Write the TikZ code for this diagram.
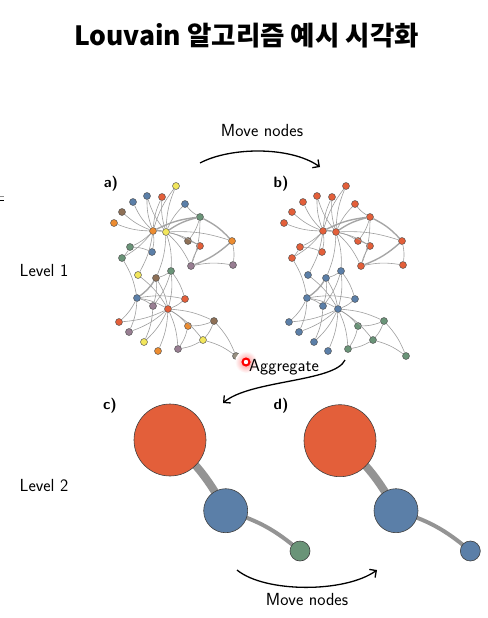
\documentclass[tikz,border=0pt]{standalone}
\usepackage{fontspec}
\newfontfamily\krfont{Noto Sans CJK KR}
\usetikzlibrary{arrows.meta,positioning,backgrounds}
\definecolor{cred}{RGB}{227,95,58}
\definecolor{cblue}{RGB}{91,127,168}
\definecolor{cgreen}{RGB}{106,148,120}
\definecolor{cyellow}{RGB}{242,230,92}
\definecolor{corange}{RGB}{236,140,48}
\definecolor{cbrown}{RGB}{142,112,86}
\definecolor{cmauve}{RGB}{152,126,146}
\definecolor{cgraygreen}{RGB}{150,142,128}

\begin{document}
\begin{tikzpicture}[x=1pt,y=1pt]
\tikzset{
  smallnode/.style={circle,draw=black!70,line width=0.45pt,minimum size=7pt,inner sep=0pt},
  linkedge/.style={draw=black!38,line width=0.6pt,bend left=10},
  heavylink/.style={linkedge,line width=1.4pt,draw=black!35},
  commnode/.style={circle,draw=black!75,line width=0.6pt,inner sep=0pt},
  commedge/.style={draw=black!42},
  movearrow/.style={draw=black,line width=1.3pt,-{Straight Barb[length=5pt,width=10pt]}},
  panellabel/.style={font=\sffamily\bfseries\fontsize{15}{18}\selectfont},
  levellabel/.style={font=\sffamily\fontsize{17.5}{20}\selectfont}
}
\useasboundingbox (0,0) rectangle (487,-618);
\node[font=\krfont\bfseries\fontsize{26.5}{30}\selectfont,anchor=base] (title) at (246.5,-46) {Louvain 알고리즘 예시 시각화};
\draw[black!45,line width=0.6pt] (0,-196.5) -- (3.5,-196.5);
\draw[black,line width=1.3pt] (0,-200.5) -- (4,-200.5);

% labels
\node[levellabel] (lvl_1) at (44,-270) {Level 1};
\node[levellabel] (lvl_2) at (44,-485) {Level 2};
\node[panellabel] (lab_a) at (111,-184) {a)};
\node[panellabel] (lab_b) at (281,-184) {b)};
\node[panellabel] (lab_c) at (110,-406) {c)};
\node[panellabel] (lab_d) at (281,-406) {d)};

% a) original network
\node[smallnode,fill=cyellow] (a_1) at (176,-186) {};
\node[smallnode,fill=cblue] (a_2) at (147,-196) {};
\node[smallnode,fill=cred] (a_3) at (162,-197) {};
\node[smallnode,fill=cblue] (a_4) at (133,-202) {};
\node[smallnode,fill=cblue] (a_5) at (185,-204) {};
\node[smallnode,fill=cbrown] (a_6) at (122,-212) {};
\node[smallnode,fill=corange] (a_7) at (114,-223) {};
\node[smallnode,fill=cgreen] (a_8) at (200,-217) {};
\node[smallnode,fill=corange] (a_9) at (153,-231) {};
\node[smallnode,fill=cyellow] (a_10) at (166,-232) {};
\node[smallnode,fill=cbrown] (a_11) at (188,-241) {};
\node[smallnode,fill=corange] (a_12) at (232,-241) {};
\node[smallnode,fill=cgreen] (a_13) at (130,-247) {};
\node[smallnode,fill=cred] (a_14) at (200,-246) {};
\node[smallnode,fill=cblue] (a_15) at (152,-252) {};
\node[smallnode,fill=cgreen] (a_16) at (122,-258) {};
\node[smallnode,fill=cmauve] (a_17) at (191,-266) {};
\node[smallnode,fill=cmauve] (a_18) at (233,-265) {};
\node[smallnode,fill=cgreen] (a_19) at (171,-271) {};
\node[smallnode,fill=cyellow] (a_20) at (138,-275) {};
\node[smallnode,fill=cbrown] (a_21) at (156,-278) {};
\node[smallnode,fill=cblue] (a_22) at (137,-298) {};
\node[smallnode,fill=cred] (a_23) at (185,-299) {};
\node[smallnode,fill=cmauve] (a_24) at (153,-306) {};
\node[smallnode,fill=cred] (a_25) at (168,-309) {};
\node[smallnode,fill=cbrown] (a_26) at (214,-321) {};
\node[smallnode,fill=cred] (a_27) at (119,-322) {};
\node[smallnode,fill=corange] (a_28) at (188,-326) {};
\node[smallnode,fill=cmauve] (a_29) at (129,-332) {};
\node[smallnode,fill=cyellow] (a_30) at (203,-340) {};
\node[smallnode,fill=cyellow] (a_31) at (144,-342) {};
\node[smallnode,fill=corange] (a_32) at (158,-351) {};
\node[smallnode,fill=cmauve] (a_33) at (178,-349) {};
\node[smallnode,fill=cgraygreen] (a_34) at (236,-356) {};
\draw[linkedge] (a_9) edge (a_1) edge (a_2) edge (a_3) edge (a_4) edge (a_6) edge (a_7) edge (a_13) edge (a_15) edge (a_16) edge (a_20);
\draw[heavylink] (a_9) edge (a_10) edge (a_8);
\draw[linkedge] (a_10) edge (a_1) edge (a_2) edge (a_3) edge (a_5) edge (a_11) edge (a_12) edge (a_14) edge (a_17) edge (a_19) edge (a_21);
\draw[heavylink] (a_10) edge (a_8);
\draw[linkedge] (a_8) edge (a_5) edge (a_11) edge (a_17);
\draw[heavylink] (a_8) edge (a_12);
\draw[linkedge] (a_12) edge (a_18);
\draw[heavylink] (a_12) edge (a_17);
\draw[linkedge] (a_17) edge (a_18) edge (a_14);
\draw[linkedge] (a_11) edge (a_14);
\draw[linkedge] (a_13) edge (a_16) edge (a_15);
\draw[linkedge] (a_16) edge (a_22);
\draw[linkedge] (a_19) edge (a_21) edge (a_23) edge (a_25) edge (a_24);
\draw[linkedge] (a_21) edge (a_25) edge (a_24);
\draw[heavylink] (a_21) edge (a_22);
\draw[linkedge] (a_20) edge (a_25);
\draw[linkedge] (a_22) edge (a_23) edge (a_24) edge (a_25) edge (a_27) edge (a_29);
\draw[linkedge] (a_23) edge (a_25);
\draw[linkedge] (a_24) edge (a_31);
\draw[linkedge] (a_25) edge (a_26) edge (a_27) edge (a_28) edge (a_29) edge (a_31) edge (a_32) edge (a_33) edge (a_30);
\draw[linkedge] (a_26) edge (a_28) edge (a_30) edge (a_34);
\draw[linkedge] (a_28) edge (a_33);
\draw[linkedge] (a_30) edge (a_33) edge (a_34);

% b) after moving nodes
\node[smallnode,fill=cred] (b_1) at (346,-186) {};
\node[smallnode,fill=cred] (b_2) at (317,-196) {};
\node[smallnode,fill=cred] (b_3) at (332,-197) {};
\node[smallnode,fill=cred] (b_4) at (303,-202) {};
\node[smallnode,fill=cred] (b_5) at (355,-204) {};
\node[smallnode,fill=cred] (b_6) at (292,-212) {};
\node[smallnode,fill=cred] (b_7) at (284,-223) {};
\node[smallnode,fill=cred] (b_8) at (370,-217) {};
\node[smallnode,fill=cred] (b_9) at (323,-231) {};
\node[smallnode,fill=cred] (b_10) at (336,-232) {};
\node[smallnode,fill=cred] (b_11) at (358,-241) {};
\node[smallnode,fill=cred] (b_12) at (402,-241) {};
\node[smallnode,fill=cred] (b_13) at (300,-247) {};
\node[smallnode,fill=cred] (b_14) at (370,-246) {};
\node[smallnode,fill=cred] (b_15) at (322,-252) {};
\node[smallnode,fill=cred] (b_16) at (292,-258) {};
\node[smallnode,fill=cred] (b_17) at (361,-266) {};
\node[smallnode,fill=cred] (b_18) at (403,-265) {};
\node[smallnode,fill=cblue] (b_19) at (341,-271) {};
\node[smallnode,fill=cblue] (b_20) at (308,-275) {};
\node[smallnode,fill=cblue] (b_21) at (326,-278) {};
\node[smallnode,fill=cblue] (b_22) at (307,-298) {};
\node[smallnode,fill=cblue] (b_23) at (355,-299) {};
\node[smallnode,fill=cblue] (b_24) at (323,-306) {};
\node[smallnode,fill=cblue] (b_25) at (338,-309) {};
\node[smallnode,fill=cgreen] (b_26) at (384,-321) {};
\node[smallnode,fill=cblue] (b_27) at (289,-322) {};
\node[smallnode,fill=cgreen] (b_28) at (358,-326) {};
\node[smallnode,fill=cblue] (b_29) at (299,-332) {};
\node[smallnode,fill=cgreen] (b_30) at (373,-340) {};
\node[smallnode,fill=cblue] (b_31) at (314,-342) {};
\node[smallnode,fill=cblue] (b_32) at (328,-351) {};
\node[smallnode,fill=cgreen] (b_33) at (348,-349) {};
\node[smallnode,fill=cgreen] (b_34) at (406,-356) {};
\draw[linkedge] (b_9) edge (b_1) edge (b_2) edge (b_3) edge (b_4) edge (b_6) edge (b_7) edge (b_13) edge (b_15) edge (b_16) edge (b_20);
\draw[heavylink] (b_9) edge (b_10) edge (b_8);
\draw[linkedge] (b_10) edge (b_1) edge (b_2) edge (b_3) edge (b_5) edge (b_11) edge (b_12) edge (b_14) edge (b_17) edge (b_19) edge (b_21);
\draw[heavylink] (b_10) edge (b_8);
\draw[linkedge] (b_8) edge (b_5) edge (b_11) edge (b_17);
\draw[heavylink] (b_8) edge (b_12);
\draw[linkedge] (b_12) edge (b_18);
\draw[heavylink] (b_12) edge (b_17);
\draw[linkedge] (b_17) edge (b_18) edge (b_14);
\draw[linkedge] (b_11) edge (b_14);
\draw[linkedge] (b_13) edge (b_16) edge (b_15);
\draw[linkedge] (b_16) edge (b_22);
\draw[linkedge] (b_19) edge (b_21) edge (b_23) edge (b_25) edge (b_24);
\draw[linkedge] (b_21) edge (b_25) edge (b_24);
\draw[heavylink] (b_21) edge (b_22);
\draw[linkedge] (b_20) edge (b_25);
\draw[linkedge] (b_22) edge (b_23) edge (b_24) edge (b_25) edge (b_27) edge (b_29);
\draw[linkedge] (b_23) edge (b_25);
\draw[linkedge] (b_24) edge (b_31);
\draw[linkedge] (b_25) edge (b_26) edge (b_27) edge (b_28) edge (b_29) edge (b_31) edge (b_32) edge (b_33) edge (b_30);
\draw[linkedge] (b_26) edge (b_28) edge (b_30) edge (b_34);
\draw[linkedge] (b_28) edge (b_33);
\draw[linkedge] (b_30) edge (b_33) edge (b_34);

% c) and d) aggregated communities
\node[commnode,fill=cred,minimum size=72pt] (c_red) at (170,-440) {};
\node[commnode,fill=cblue,minimum size=44pt] (c_blue) at (225.7,-510.7) {};
\node[commnode,fill=cgreen,minimum size=20pt] (c_green) at (300,-551) {};
\node[commnode,fill=cred,minimum size=72pt] (d_red) at (340,-440.7) {};
\node[commnode,fill=cblue,minimum size=44pt] (d_blue) at (396,-510.7) {};
\node[commnode,fill=cblue,minimum size=20pt] (d_small) at (470.3,-551) {};
\begin{scope}[on background layer]
\draw[commedge,line width=8pt] (c_red.center) to[bend left=10] (c_blue.center);
\draw[commedge,line width=4pt] (c_blue.center) to[bend left=12] (c_green.center);
\draw[commedge,line width=8pt] (d_red.center) to[bend left=10] (d_blue.center);
\draw[commedge,line width=4pt] (d_blue.center) to[bend left=12] (d_small.center);
\end{scope}

% arrows between steps
\coordinate (mv1_start) at (200,-163);
\coordinate (mv1_end) at (320,-167);
\draw[movearrow] (mv1_start) .. controls (230,-147) and (290,-146) .. (mv1_end);
\node[levellabel] (mv1_text) at (262,-130) {Move nodes};
\coordinate (agg_start) at (345,-360);
\coordinate (agg_end) at (223,-403);
\shade[inner color=red!45,outer color=white] (246,-362) circle (11);
\draw[movearrow] (agg_start) .. controls (335,-382) and (250,-380) .. (agg_end);
\fill[red] (246,-362) circle (4.6);
\fill[white] (246,-362) circle (2.2);
\node[levellabel] (agg_text) at (284,-367) {Aggregate};
\coordinate (mv2_start) at (237,-570);
\coordinate (mv2_end) at (377,-570);
\draw[movearrow] (mv2_start) .. controls (265,-593) and (345,-593) .. (mv2_end);
\node[levellabel] (mv2_text) at (307,-599) {Move nodes};
\end{tikzpicture}
\end{document}
